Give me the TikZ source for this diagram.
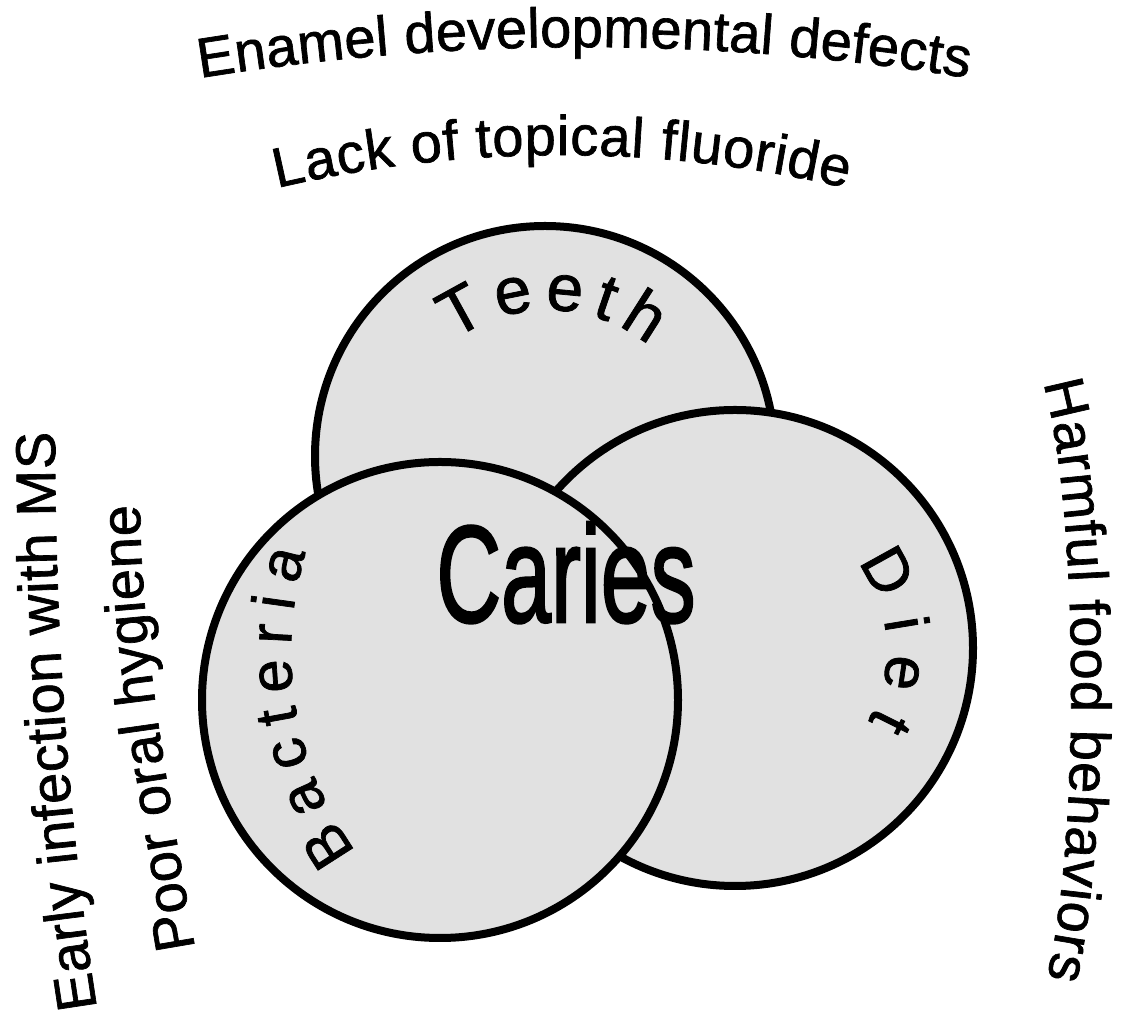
\documentclass[tikz,border=0pt]{standalone}
\usepackage{fontspec}
\setmainfont{Liberation Sans}
\newfontfamily\heavysans[FakeBold=1.2]{Liberation Sans}
\newfontfamily\heaviersans[FakeBold=2]{Liberation Sans}
\usetikzlibrary{decorations.text}
\definecolor{circfill}{RGB}{225,225,225}
\newcommand\outerfont{\heavysans\fontsize{56}{60}\selectfont}
\newcommand\teethfont{\heavysans\fontsize{66}{70}\selectfont}
\newcommand\bactfont{\heavysans\fontsize{60}{66}\selectfont}
\newcommand\dietfont{\heavysans\fontsize{62}{68}\selectfont}
\begin{document}
\begin{tikzpicture}[x=1pt,y=1pt,
  circ/.style={circle, draw=black, line width=8pt, fill=circfill, inner sep=0pt},
  curved/.style={decorate, decoration={text along path, text align={fit to path}, text={#1}}}]
\fill[white] (0,0) rectangle (1125,1014);
\useasboundingbox (0,0) rectangle (1125,1014);
% circles
\node[circ, minimum size=460pt] (teeth) at (545,558) {};
\node[circ, minimum size=476pt] (diet) at (735,366) {};
\node[circ, minimum size=476pt] (bacteria) at (440,314) {};
% central label
\node[font=\heaviersans\fontsize{138}{140}\selectfont, xscale=0.65, anchor=base, inner sep=0pt] (caries) at (566,392) {Caries};
% curved labels inside circles
\path[curved={|\teethfont|Teeth}] ([shift={(126:160)}]548,544) arc[start angle=126, end angle=51, radius=160];
\path[curved={|\bactfont|Bacteria}] ([shift={(216:340)}]631,362) arc[start angle=216, end angle=163, radius=340];
\path[curved={|\dietfont|Diet}] ([shift={(38:142)}]745,364) arc[start angle=38, end angle=-30, radius=142];
% outer labels
\path[curved={|\outerfont|Enamel developmental defects}] (200,936) arc[start angle=99.21, end angle=80.79, radius=2400];
\path[curved={|\outerfont|Lack of topical fluoride}] (277,826) arc[start angle=103.2, end angle=76.8, radius=1247];
\path[curved={|\outerfont|Early infection with MS}] (97,6) .. controls (67,196) and (55,392) .. (55,582);
\path[curved={|\outerfont|Poor oral hygiene}] (195,66) .. controls (170,214) and (141,364) .. (140,509);
\path[curved={|\outerfont|Harmful food behaviors}] (1043,631) .. controls (1078,514) and (1082,184) .. (1047,36);
\end{tikzpicture}
\end{document}
